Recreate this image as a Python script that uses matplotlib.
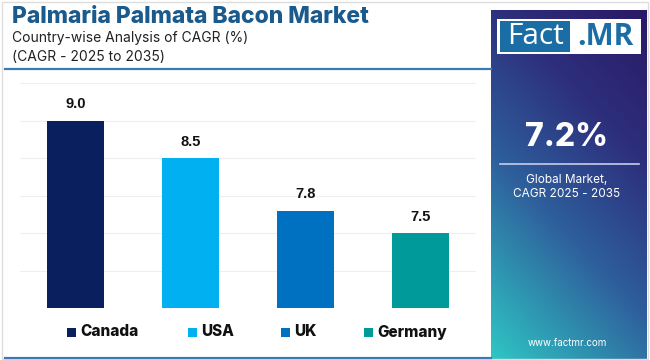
import numpy as np
import matplotlib
matplotlib.use("Agg")
import matplotlib.pyplot as plt
from matplotlib.colors import LinearSegmentedColormap
from matplotlib.patches import Rectangle

countries = ["Canada", "USA", "UK", "Germany"]
cagr = [9.0, 8.5, 7.8, 7.5]
bar_colors = ["#0a1f5e", "#00b0f0", "#0070c0", "#009a9a"]
title = "Palmaria Palmata Bacon Market"
subtitle1 = "Country-wise Analysis of CAGR (%)"
subtitle2 = "(CAGR - 2025 to 2035)"
global_cagr = "7.2%"
global_label = ["Global Market,", "CAGR 2025 - 2035"]

W, H = 650, 360
fig = plt.figure(figsize=(6.5, 3.6), dpi=100)
fig.patch.set_facecolor("white")

def fx(x):
    return x / W

def fy(y):
    return 1 - y / H

# outer light border
fig.add_artist(Rectangle((fx(2), fy(359)), fx(646), 357 / H, transform=fig.transFigure,
                         fill=False, edgecolor="#dddddd", linewidth=1.0))

# header line and bottom line
fig.add_artist(plt.Line2D([fx(5), fx(491)], [fy(69), fy(69)], transform=fig.transFigure,
                          color="#3b7bb3", linewidth=1.6))
fig.add_artist(plt.Line2D([fx(5), fx(491)], [fy(358), fy(358)], transform=fig.transFigure,
                          color="#3b7bb3", linewidth=1.6))

# titles
fig.text(fx(12), fy(17), title, fontsize=16.5, fontweight="heavy", color="#1a5a8c",
         family="Inter", va="center", ha="left")
fig.text(fx(12), fy(38), subtitle1, fontsize=10, color="#222222", family="Inter",
         va="center", ha="left")
fig.text(fx(12), fy(57), subtitle2, fontsize=10, color="#222222", family="Inter",
         va="center", ha="left")

# main bar axes
ax = fig.add_axes([fx(20), fy(308), fx(456), 225 / H])
x = np.arange(len(countries))
ax.bar(x, cagr, width=0.5, color=bar_colors, zorder=3)
ax.set_ylim(6.5, 9.5)
ax.set_xlim(-0.485, 3.485)
ax.set_yticks(np.arange(6.5, 9.51, 0.5))
ax.grid(axis="y", color="#eeeeee", linewidth=0.8, zorder=0)
ax.set_xticks([])
ax.tick_params(axis="y", length=0, labelleft=False)
for s in ax.spines.values():
    s.set_visible(False)
for xi, v in zip(x, cagr):
    ax.annotate(f"{v:.1f}", (xi, v), xytext=(0, 6.5), textcoords="offset points",
                ha="center", va="bottom", fontsize=10.5, fontweight="bold",
                family="Liberation Sans", color="#111111")

# legend
leg_sq_x = [67, 188, 281, 364]
for name, col, sx in zip(countries, bar_colors, leg_sq_x):
    fig.add_artist(Rectangle((fx(sx), fy(336.5)), 8.5 / W, 8.5 / H, transform=fig.transFigure,
                             facecolor=col, edgecolor="none"))
    fig.text(fx(sx + 13), fy(332), name, fontsize=11, fontweight="heavy",
             family="Inter", color="#111111", va="center", ha="left")

# right gradient panel
pax = fig.add_axes([fx(491), 0, fx(156), 350 / H])
ny, nx = 200, 100
t = np.linspace(0, 1, ny)[:, None]
s = np.linspace(0, 1, nx)[None, :]
d = 0.68 * t + 0.32 * (1 - s)
cmap = LinearSegmentedColormap.from_list(
    "panel", [(0.0, "#2a1966"), (0.3, "#2d2f7c"), (0.6, "#2e5f9c"), (1.0, "#2fc6c4")])
pax.imshow(cmap(d), aspect="auto", extent=[0, 1, 0, 1], origin="upper")
pax.set_xlim(0, 1)
pax.set_ylim(0, 1)
pax.axis("off")

# logo
fig.add_artist(Rectangle((fx(497), fy(54)), 144 / W, 35 / H, transform=fig.transFigure,
                         facecolor="white", edgecolor="none"))
fig.add_artist(Rectangle((fx(499.5), fy(51.5)), 70 / W, 30 / H, transform=fig.transFigure,
                         facecolor="#1a6ea5", edgecolor="none"))
fig.text(fx(535), fy(37), "Fact", fontsize=21.5, color="white", family="Open Sans",
         va="center", ha="center")
fig.text(fx(605), fy(37), ".MR", fontsize=21.5, fontweight="bold", color="#1a6ea5",
         family="Open Sans", va="center", ha="center")

# global cagr
fig.text(fx(567), fy(138), global_cagr, fontsize=23, fontweight="heavy", color="white",
         family="Inter", va="center", ha="center")
fig.add_artist(plt.Line2D([fx(500), fx(639)], [fy(164), fy(164)], transform=fig.transFigure,
                          color="#c8cce8", linewidth=1.2))
fig.text(fx(567), fy(180), global_label[0], fontsize=8.5, color="white", family="Inter",
         va="center", ha="center")
fig.text(fx(567), fy(194), global_label[1], fontsize=8.5, color="white", family="Inter",
         va="center", ha="center")
fig.text(fx(567), fy(343), "www.factmr.com", fontsize=7, color="white", family="Inter",
         va="center", ha="center")

fig.savefig("out.png", dpi=100, facecolor="white")
